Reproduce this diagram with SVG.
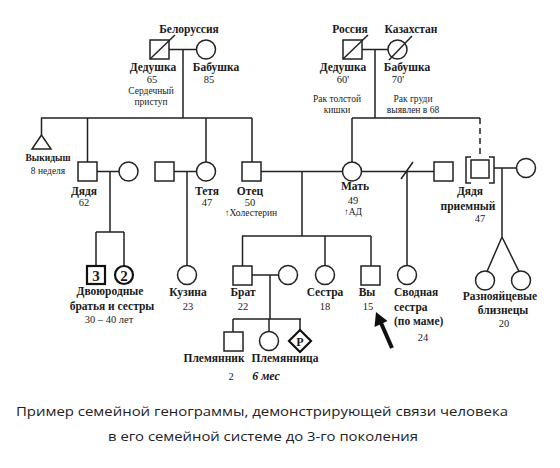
<svg xmlns="http://www.w3.org/2000/svg" width="560" height="468" viewBox="0 0 560 468">
<style>
.ln{stroke:#222;stroke-width:1.5;fill:none}
.sh{stroke:#222;stroke-width:1.5;fill:#fff}
.bd{stroke:#111;stroke-width:2.2;fill:#fff}
text{font-family:"Liberation Serif","Times New Roman",serif;fill:#1a1a1a;text-anchor:middle}
.n{font-size:11.5px;font-weight:bold}
.v{font-size:10.5px}
.s{font-size:9.5px}
.l{text-anchor:start}
.cap{font-family:"Open Sans","DejaVu Sans",sans-serif;font-size:13px;fill:#222}
</style>
<rect width="560" height="468" fill="#fff"/>
<g id="connectors">
<path class="ln" d="M169,49.5H196.5M183,49.5V118M41,118H252M41.5,118V135M87.5,118V162M206,118V162M252,118V162"/>
<path class="ln" d="M362,49.5H388M375,49.5V118M352,118H480M352,118V162"/>
<path class="ln" stroke-dasharray="6,4" d="M480,118V157"/>
<path class="ln" d="M97,171.5H119M110,171.5V232M96,232H124M96,232V266M124,232V266"/>
<path class="ln" d="M174,171.5H196.5M187,171.5V265.5"/>
<path class="ln" d="M261,171.5H342.5M302,171.5V236M242,236H371M242.5,236V266M325,236V265.5M371,236V266"/>
<path class="ln" d="M361.5,171.5H434M407,171.5V265.5M401,179L413,162"/>
<path class="ln" d="M252,275H278.5M270,275V319M233,319H301M233,319V332M269,319V331.5M300,319V330"/>
<path class="ln" d="M494,168H516.5M502,168V237M502,237L487,271.5M502,237L519,271.5"/>
<path d="M392,348L381,323" stroke="#111" stroke-width="4" fill="none"/>
<polygon points="376,312 374.5,327 387.5,321" fill="#111"/>
</g>
<g id="grandpa-l"><rect class="sh" x="150" y="40" width="19" height="19"/><path class="ln" d="M150,59L175,35"/></g>
<g id="grandma-l"><circle class="sh" cx="206" cy="49.5" r="9.5"/></g>
<g id="grandpa-r"><rect class="sh" x="343" y="40" width="19" height="19"/><path class="ln" d="M343,59L368,35"/></g>
<g id="grandma-r"><circle class="sh" cx="397.5" cy="49.5" r="9.5"/><path class="ln" d="M389,60L412,36"/></g>
<g id="miscarriage"><polygon class="sh" points="41.5,135 32,149 51,149"/></g>
<g id="uncle"><rect class="sh" x="78" y="162" width="19" height="19"/></g>
<g id="uncle-wife"><circle class="sh" cx="128.5" cy="171.5" r="9.5"/></g>
<g id="aunt-husband"><rect class="sh" x="155" y="162" width="19" height="19"/></g>
<g id="aunt"><circle class="sh" cx="206" cy="171.5" r="9.5"/></g>
<g id="father"><rect class="sh" x="242" y="162" width="19" height="19"/></g>
<g id="mother"><circle class="sh" cx="352" cy="171.5" r="9.5"/></g>
<g id="mother-ex"><rect class="sh" x="434" y="162" width="19" height="19"/></g>
<g id="adopted-uncle"><path class="ln" d="M471,157H466V183H471M489,157H494V183H489"/><rect class="sh" x="471" y="160" width="18" height="18"/></g>
<g id="adopted-uncle-wife"><circle class="sh" cx="526" cy="168" r="9.5"/></g>
<g id="cousins-m"><rect class="bd" x="87" y="266" width="18" height="18"/><text x="96" y="281" style="font-size:15px;font-weight:bold">3</text></g>
<g id="cousins-f"><circle class="bd" cx="124" cy="275" r="9"/><text x="124" y="281" style="font-size:15px;font-weight:bold">2</text></g>
<g id="cousin"><circle class="sh" cx="187" cy="275" r="9.5"/></g>
<g id="brother"><rect class="sh" x="233" y="266" width="19" height="19"/></g>
<g id="brother-wife"><circle class="sh" cx="288" cy="275" r="9.5"/></g>
<g id="sister"><circle class="sh" cx="325" cy="275" r="9.5"/></g>
<g id="you"><rect class="sh" x="361" y="266" width="19" height="19"/></g>
<g id="half-sister"><circle class="sh" cx="407" cy="275" r="9.5"/></g>
<g id="twin1"><circle class="sh" cx="485" cy="280.5" r="9.5"/></g>
<g id="twin2"><circle class="sh" cx="521" cy="280.5" r="9.5"/></g>
<g id="nephew"><rect class="sh" x="224" y="332" width="19" height="19"/></g>
<g id="niece"><circle class="sh" cx="269" cy="341" r="9.5"/></g>
<g id="pregnancy"><polygon class="bd" points="300,330 311,341 300,352 289,341"/><text x="300" y="346" style="font-size:12px;font-weight:bold">P</text></g>
<g id="labels">
<text class="n" x="189" y="33">Белоруссия</text>
<text class="n" x="153" y="71">Дедушка</text>
<text class="n" x="216" y="71">Бабушка</text>
<text class="v" x="152" y="83">65</text>
<text class="v" x="209" y="83">85</text>
<text class="s" x="151" y="94">Сердечный</text>
<text class="s" x="151" y="105">приступ</text>
<text class="n" x="350" y="33">Россия</text>
<text class="n" x="411" y="33">Казахстан</text>
<text class="n" x="343" y="71">Дедушка</text>
<text class="n" x="407" y="71">Бабушка</text>
<text class="v" x="343" y="83">60'</text>
<text class="v" x="398" y="83">70'</text>
<text class="s" x="337" y="102">Рак толстой</text>
<text class="s" x="337" y="113">кишки</text>
<text class="s" x="413" y="102">Рак груди</text>
<text class="s" x="413" y="113">выявлен в 68</text>
<text class="s" x="48" y="161" style="font-weight:bold">Выкидыш</text>
<text class="s" x="48" y="174">8 неделя</text>
<text class="n" x="84" y="195">Дядя</text>
<text class="v" x="84" y="206">62</text>
<text class="n" x="207" y="195">Тетя</text>
<text class="v" x="207" y="206">47</text>
<text class="n" x="250" y="195">Отец</text>
<text class="v" x="250" y="206">50</text>
<text class="s" x="251" y="216">↑Холестерин</text>
<text class="n" x="355" y="190">Мать</text>
<text class="v" x="353" y="204">49</text>
<text class="s" x="353" y="215">↑АД</text>
<text class="n" x="470" y="195">Дядя</text>
<text class="n" x="468" y="210">приемный</text>
<text class="v" x="480" y="222">47</text>
<text class="n" x="110" y="295">Двоюродные</text>
<text class="n" x="112" y="310">братья и сестры</text>
<text class="v" x="109" y="323">30 – 40 лет</text>
<text class="n" x="188" y="296">Кузина</text>
<text class="v" x="188" y="310">23</text>
<text class="n" x="243" y="296">Брат</text>
<text class="v" x="243" y="310">22</text>
<text class="n" x="325" y="296">Сестра</text>
<text class="v" x="325" y="310">18</text>
<text class="n" x="367" y="296">Вы</text>
<text class="v" x="368" y="310">15</text>
<text class="n l" x="394" y="296">Сводная</text>
<text class="n l" x="394" y="311">сестра</text>
<text class="n l" x="394" y="325">(по маме)</text>
<text class="v" x="423" y="341">24</text>
<text class="n" x="500" y="300">Разнояйцевые</text>
<text class="n" x="503" y="314">близнецы</text>
<text class="v" x="504" y="327">20</text>
<text class="n" x="214" y="362">Племянник</text>
<text class="n" x="285" y="362">Племянница</text>
<text class="v" x="231" y="380">2</text>
<text x="266" y="380" style="font-size:12px;font-weight:bold;font-style:italic">6 мес</text>
</g>
<g id="caption">
<text class="cap" x="262" y="416" textLength="492" lengthAdjust="spacingAndGlyphs">Пример семейной генограммы, демонстрирующей связи человека</text>
<text class="cap" x="263" y="441" textLength="310" lengthAdjust="spacingAndGlyphs">в его семейной системе до 3-го поколения</text>
</g>
</svg>
